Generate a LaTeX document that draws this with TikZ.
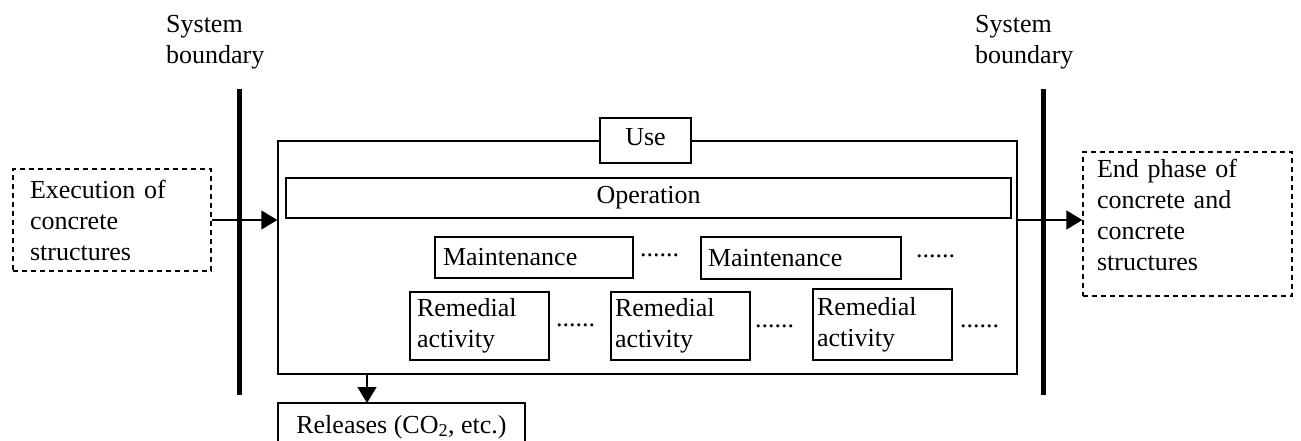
\documentclass[tikz,border=0pt]{standalone}
\usepackage{fontspec}
\setmainfont{Liberation Serif}
\usetikzlibrary{arrows.meta}
\begin{document}
\begin{tikzpicture}[x=1pt,y=-1pt,
  every node/.style={font=\fontsize{26}{31}\selectfont},
  box/.style={draw, line width=1.3pt, inner ysep=0pt},
  dbox/.style={draw, line width=1.3pt, dash pattern=on 5pt off 4pt, inner ysep=0pt},
  txt/.style={inner sep=0pt, align=left, anchor=north west},
  dots/.style={inner sep=0pt, anchor=base west},
  boundary/.style={line width=5pt},
  flow/.style={line width=1.3pt, -{Triangle[length=16pt,width=19pt]}}]
\useasboundingbox (0,0) rectangle (1301,441);

% system boundaries
\node[txt] (sysL) at (166,15.4) {System\\boundary};
\node[txt] (sysR) at (975,15.4) {System\\boundary};
\coordinate (bL1) at (239,89);  \coordinate (bL2) at (239,395);
\coordinate (bR1) at (1043,89); \coordinate (bR2) at (1043,395);

% phase before and after
\node[dbox, minimum width=198pt, minimum height=102pt, text width=164pt, inner xsep=17pt, align=left]
  (exec) at (112,220) {Execution of\\concrete\\structures};
\node[dbox, minimum width=209pt, minimum height=144pt, text width=181pt, inner xsep=14pt, align=left, text depth=111.8pt]
  (end) at (1187.5,224) {End phase of\\concrete and\\concrete\\structures};

% use phase
\node[box, minimum width=739pt, minimum height=233pt] (use) at (647.5,257.5) {};
\node[box, minimum width=725pt, minimum height=40pt] (op) at (648.5,198) {Operation};
\node[box, fill=white, minimum width=91pt, minimum height=45pt, text height=17.2pt, text depth=6.8pt]
  (uselabel) at (645.5,140.5) {Use};

\node[box, minimum width=198pt, minimum height=41pt, text width=182pt, inner xsep=8pt, align=left]
  (mA) at (534,257.5) {Maintenance};
\node[box, minimum width=200pt, minimum height=42pt, text width=186pt, inner xsep=7pt, align=left]
  (mB) at (801,258) {Maintenance};
\node[dots] (dA) at (640,256) {......};
\node[dots] (dB) at (916,257) {......};

\node[box, minimum width=139pt, minimum height=68pt, text width=125pt, inner xsep=7pt, align=left]
  (rA) at (479.5,326) {Remedial\\activity};
\node[box, minimum width=139pt, minimum height=68pt, text width=131pt, inner xsep=4pt, align=left]
  (rB) at (680.5,326) {Remedial\\activity};
\node[box, minimum width=139pt, minimum height=71pt, text width=131pt, inner xsep=4pt, align=left]
  (rC) at (882.5,324.5) {Remedial\\activity};
\node[dots] (dC) at (556,326) {......};
\node[dots] (dD) at (755,327) {......};
\node[dots] (dE) at (960,327) {......};

% releases
\node[box, minimum width=247pt, minimum height=48pt, text height=18pt, text depth=6pt]
  (rel) at (401.5,427) {Releases (CO\textsubscript{2}, etc.)};
\coordinate (relIn) at (367,403);

% connectors
\draw[boundary] (bL1) -- (bL2);
\draw[boundary] (bR1) -- (bR2);
\draw[flow] (exec.east) -- (exec.east -| use.west);
\draw[flow] (use.east |- exec.east) -- (end.west |- exec.east);
\draw[flow] (relIn |- use.south) -- (relIn);
\end{tikzpicture}
\end{document}
